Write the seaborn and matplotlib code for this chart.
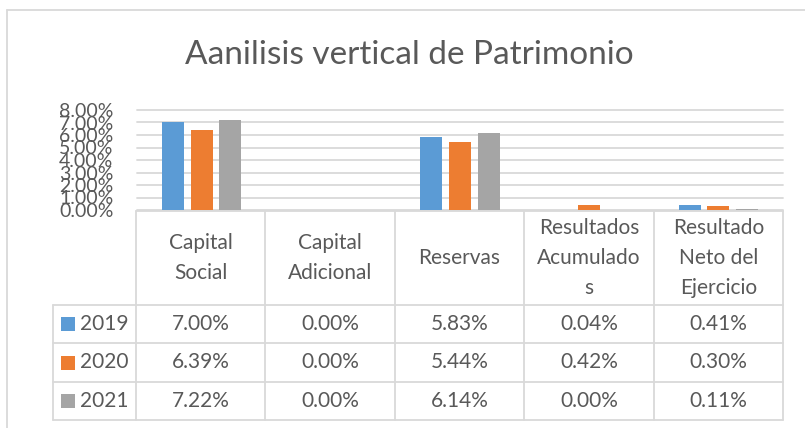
import numpy as np
import pandas as pd
import seaborn as sns
import matplotlib.pyplot as plt
from matplotlib.patches import Rectangle

categories = ["Capital Social", "Capital Adicional", "Reservas",
              "Resultados Acumulados", "Resultado Neto del Ejercicio"]
header_labels = ["Capital\nSocial", "Capital\nAdicional", "Reservas",
                 "Resultados\nAcumulado\ns", "Resultado\nNeto del\nEjercicio"]
years = ["2019", "2020", "2021"]
v2019 = [0.0700, 0.0000, 0.0583, 0.0004, 0.0041]
v2020 = [0.0639, 0.0000, 0.0544, 0.0042, 0.0030]
v2021 = [0.0722, 0.0000, 0.0614, 0.0000, 0.0011]
colors = ["#5B9BD5", "#ED7D31", "#A5A5A5"]

rows = []
for y, vals in zip(years, [v2019, v2020, v2021]):
    for c, v in zip(categories, vals):
        rows.append({"cat": c, "year": y, "value": v})
df = pd.DataFrame(rows)

sns.set_style("white")
plt.rcParams["font.family"] = ["Lato", "DejaVu Sans"]
txt = "#595959"
grid = "#D9D9D9"
fs = 15

W, H = 805, 428
fig = plt.figure(figsize=(W / 100, H / 100), dpi=100)

# pixel canvas for borders and the data table
canvas = fig.add_axes([0, 0, 1, 1], zorder=0)
canvas.set_xlim(0, W)
canvas.set_ylim(H, 0)
canvas.axis("off")

# bar area
x0, x1, ytop, ybot = 137, 783, 110, 210
ax = fig.add_axes([x0 / W, 1 - ybot / H, (x1 - x0) / W, (ybot - ytop) / H], zorder=1)
ax.patch.set_alpha(0)
sns.barplot(data=df, x="cat", y="value", hue="year", order=categories,
            hue_order=years, palette=colors, width=0.67, gap=0.24,
            linewidth=0, saturation=1, legend=False, ax=ax)
ax.set_ylim(0, 0.08)
ax.set_xlim(-0.5, len(categories) - 0.5)
ticks = np.arange(0, 0.081, 0.01)
ax.set_yticks(ticks)
ax.set_yticklabels([f"{t:.2%}" for t in ticks])
ax.tick_params(axis="y", length=0, pad=17, labelsize=14, labelcolor=txt)
ax.set_xticks([])
ax.set_xlabel("")
ax.set_ylabel("")
ax.yaxis.grid(True, color=grid, linewidth=1.3)
ax.set_axisbelow(True)
for g in ax.get_ygridlines():
    g.set_clip_on(False)
sns.despine(ax=ax, left=True, bottom=True)

# title
fig.text(409 / W, 1 - 55 / H, "Aanilisis vertical de Patrimonio",
         ha="center", va="center", fontsize=24, color=txt)

# chart outer border
canvas.plot([7, 7], [10, H], color=grid, lw=1.3)
canvas.plot([7, W], [10, 10], color=grid, lw=1.3)

# data table
col_edges = np.linspace(136, 783, len(categories) + 1)
row_edges = [305, 343, 382, 420]
lw = 1.3
canvas.plot([136, 783], [211, 211], color=grid, lw=lw)
for yy in row_edges:
    canvas.plot([53, 783], [yy, yy], color=grid, lw=lw)
for xx in col_edges:
    canvas.plot([xx, xx], [211, 420], color=grid, lw=lw)
canvas.plot([53, 53], [305, 420], color=grid, lw=lw)

for i, lab in enumerate(header_labels):
    cx = (col_edges[i] + col_edges[i + 1]) / 2
    canvas.text(cx, 258, lab, ha="center", va="center", fontsize=fs,
                color=txt, linespacing=1.6, multialignment="center")

for r, (y, vals, col) in enumerate(zip(years, [v2019, v2020, v2021], colors)):
    cy = (row_edges[r] + row_edges[r + 1]) / 2
    canvas.add_patch(Rectangle((61, cy - 7), 14, 14, color=col, lw=0))
    canvas.text(80, cy, y, ha="left", va="center", fontsize=fs, color=txt)
    for i, v in enumerate(vals):
        cx = (col_edges[i] + col_edges[i + 1]) / 2
        canvas.text(cx, cy, f"{v:.2%}", ha="center", va="center",
                    fontsize=fs, color=txt)

fig.savefig("out.png", dpi=100)
